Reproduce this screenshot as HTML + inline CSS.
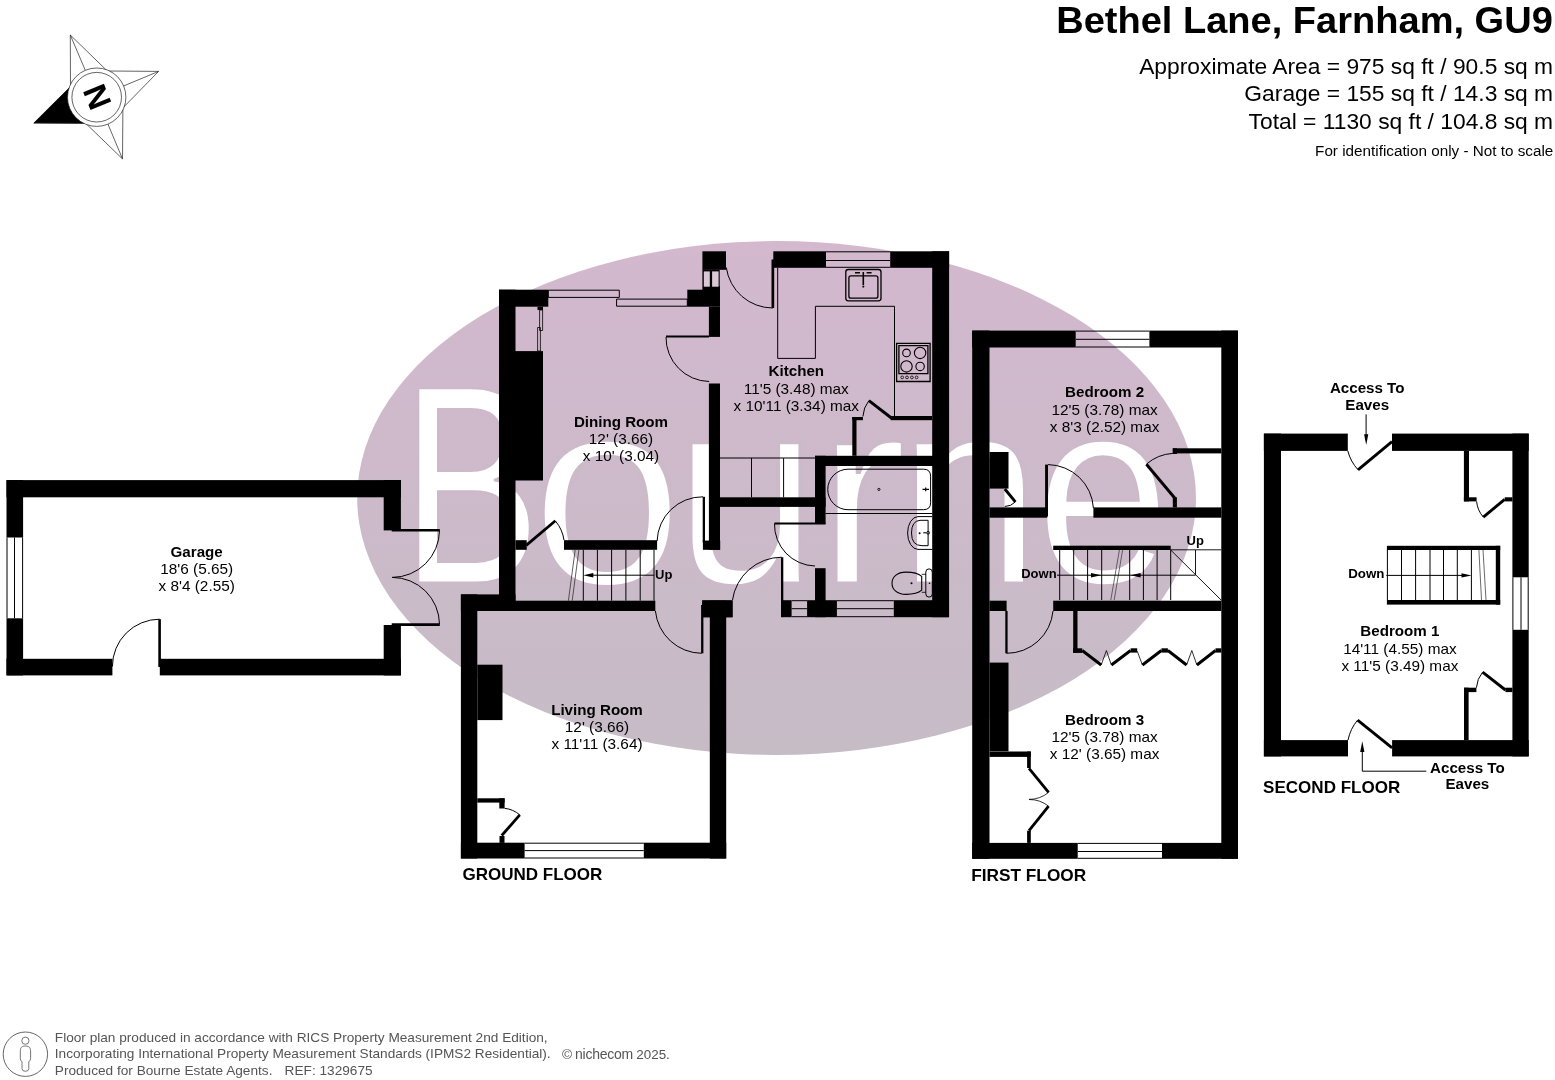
<!DOCTYPE html>
<html lang="en"><head><meta charset="utf-8"><title>Bethel Lane, Farnham, GU9 - Floor plan</title>
<style>
html,body{margin:0;padding:0;background:#fff;}
body{width:1555px;height:1080px;overflow:hidden;font-family:"Liberation Sans",sans-serif;}
svg{display:block;will-change:transform;font-family:"Liberation Sans",sans-serif;}
</style></head><body>
<svg width="1555" height="1080" viewBox="0 0 1555 1080">
<rect width="1555" height="1080" fill="#fff"/>
<defs><linearGradient id="eg" x1="0" y1="0" x2="0" y2="1"><stop offset="0" stop-color="#d3b8ce"/><stop offset="1" stop-color="#c6bcc6"/></linearGradient></defs>
<ellipse cx="776.6" cy="498" rx="419.4" ry="256.9" fill="url(#eg)"/>
<g id="watermark" aria-label="Bourne"><title>Bourne</title><text transform="translate(401.26 582.82) scale(2.0893 2.8320)" x="0" y="0" font-size="100.0" fill="#fff" stroke="#ccbaca" stroke-width="0.862">B</text><text transform="translate(530.87 584.63) scale(2.7448 2.6982)" x="0" y="0" font-size="100.0" fill="#fff" stroke="#ccbaca" stroke-width="1.676">o</text><text transform="translate(673.12 583.98) scale(2.6224 2.6915)" x="0" y="0" font-size="100.0" fill="#fff" stroke="#ccbaca" stroke-width="1.792">u</text><text transform="translate(815.85 583.92) scale(2.7640 2.6712)" x="0" y="0" font-size="100.0" fill="#fff" stroke="#ccbaca" stroke-width="1.809">r</text><text transform="translate(896.54 583.91) scale(2.6224 2.6876)" x="0" y="0" font-size="100.0" fill="#fff" stroke="#ccbaca" stroke-width="1.792">n</text><text transform="translate(1035.02 583.56) scale(2.4444 2.6729)" x="0" y="0" font-size="100.0" fill="#fff" stroke="#ccbaca" stroke-width="1.473">e</text></g>
<g stroke="#222" stroke-width="0.7" fill="#fff">
<polygon points="70.3,35.0 107.3,71.0 158.6,71.4 122.9,107.9 122.5,158.9 85.7,123.3 33.9,123.0 70.5,86.5"/>
<line x1="70.3" y1="35" x2="96.7" y2="97.2"/>
<line x1="158.6" y1="71.4" x2="96.7" y2="97.2"/>
<line x1="122.5" y1="158.9" x2="96.7" y2="97.2"/>
<line x1="33.9" y1="123" x2="96.7" y2="97.2"/>
<polygon points="33.9,123 85.7,123.3 96.7,97.2 70.5,86.5" fill="#000"/>
<circle cx="96.7" cy="97.2" r="29.2"/><circle cx="96.7" cy="97.2" r="24.8"/>
</g>
<text transform="translate(96.7 97.2) rotate(-112.4)" x="0" y="11.6" font-size="32.5" font-weight="700" text-anchor="middle" fill="#000">N</text>
<text transform="translate(1552.8 33.2) scale(1.028 1)" x="0" y="0" font-size="37.0" font-weight="700" text-anchor="end" fill="#000">Bethel Lane, Farnham, GU9</text>
<text transform="translate(1553.1 73.6) scale(1.028 1)" x="0" y="0" font-size="22.2" text-anchor="end" fill="#000">Approximate Area = 975 sq ft / 90.5 sq m</text>
<text transform="translate(1553.1 101.4) scale(1.028 1)" x="0" y="0" font-size="22.2" text-anchor="end" fill="#000">Garage = 155 sq ft / 14.3 sq m</text>
<text transform="translate(1553.1 129.1) scale(1.028 1)" x="0" y="0" font-size="22.2" text-anchor="end" fill="#000">Total = 1130 sq ft / 104.8 sq m</text>
<text transform="translate(1553.3 155.6) scale(1.028 1)" x="0" y="0" font-size="14.85" text-anchor="end" fill="#000">For identification only - Not to scale</text>
<g id="garage">
<rect x="6.5" y="480.1" width="394.4" height="17.2" fill="#000" />
<rect x="6.5" y="480.1" width="16.6" height="57.4" fill="#000" />
<rect x="6.5" y="618.3" width="16.6" height="57.1" fill="#000" />
<line x1="7.0" y1="537.5" x2="7.0" y2="618.3" stroke="#000" stroke-width="1" />
<line x1="22.6" y1="537.5" x2="22.6" y2="618.3" stroke="#000" stroke-width="1" />
<line x1="14.5" y1="537.5" x2="14.5" y2="618.3" stroke="#000" stroke-width="1" />
<rect x="383.7" y="480.1" width="17.2" height="50.3" fill="#000" />
<rect x="383.7" y="625.0" width="17.2" height="50.4" fill="#000" />
<rect x="6.5" y="658.8" width="105.9" height="16.6" fill="#000" />
<rect x="159.8" y="658.8" width="241.1" height="16.6" fill="#000" />
<line x1="391.7" y1="530.2" x2="439.8" y2="530.2" stroke="#000" stroke-width="2.6" />
<line x1="391.7" y1="624.6" x2="439.8" y2="624.6" stroke="#000" stroke-width="2.6" />
<path d="M439.5 530.6A47.3 47.3 0 0 1 392.2 577.4" stroke="#000" stroke-width="1" fill="none" />
<path d="M439.5 624.2A47.3 47.3 0 0 0 392.2 577.4" stroke="#000" stroke-width="1" fill="none" />
<line x1="159.6" y1="619.2" x2="159.6" y2="667.0" stroke="#000" stroke-width="2.6" />
<path d="M159.6 619.2A47.3 47.3 0 0 0 112.4 666.5" stroke="#000" stroke-width="1" fill="none" />
<text x="196.7" y="556.7" font-size="15.15" font-weight="700" text-anchor="middle" fill="#000" >Garage</text>
<text x="196.7" y="573.9" font-size="15.35" text-anchor="middle" fill="#000" >18'6 (5.65)</text>
<text x="196.7" y="591.1" font-size="15.35" text-anchor="middle" fill="#000" >x 8'4 (2.55)</text>
</g>
<g id="ground">
<rect x="499.0" y="289.7" width="49.3" height="17.0" fill="#000" />
<rect x="499.0" y="289.7" width="16.5" height="321.2" fill="#000" />
<rect x="499.0" y="351.1" width="44.0" height="129.4" fill="#000" />
<rect x="537.5" y="306.7" width="5.5" height="3.3" fill="#000" />
<path d="M539.6 310H542.6V330.5H539.6Z" stroke="#000" stroke-width="0.8" fill="none" />
<path d="M537.6 327.5H540.4V351H537.6Z" stroke="#000" stroke-width="0.8" fill="none" />
<path d="M548.3 290.2H619.3V297.4H548.3Z" stroke="#000" stroke-width="1" fill="none" />
<path d="M616.6 299.1H687.3V306.2H616.6Z" stroke="#000" stroke-width="1" fill="none" />
<rect x="687.3" y="289.7" width="32.7" height="17.0" fill="#000" />
<rect x="703.0" y="286.3" width="17.0" height="3.7" fill="#000" />
<rect x="708.9" y="306.7" width="11.1" height="30.2" fill="#000" />
<line x1="666.0" y1="336.6" x2="709.0" y2="336.6" stroke="#000" stroke-width="2" />
<path d="M666.0 337.0A44.0 44.0 0 0 0 709.2 381.5" stroke="#000" stroke-width="1" fill="none" />
<rect x="708.9" y="383.5" width="11.1" height="166.3" fill="#000" />
<rect x="702.9" y="540.6" width="17.3" height="9.2" fill="#000" />
<rect x="702.4" y="251.3" width="23.6" height="18.5" fill="#000" />
<rect x="702.4" y="269.5" width="17.3" height="20.5" fill="#000" />
<rect x="703.8" y="271.4" width="6.0" height="15.3" fill="#d9c8d7" />
<rect x="712.1" y="271.4" width="6.5" height="15.3" fill="#d9c8d7" />
<rect x="773.3" y="251.3" width="52.7" height="16.5" fill="#000" />
<rect x="890.2" y="251.3" width="58.9" height="16.5" fill="#000" />
<line x1="826.0" y1="251.8" x2="890.2" y2="251.8" stroke="#000" stroke-width="1" />
<line x1="826.0" y1="267.3" x2="890.2" y2="267.3" stroke="#000" stroke-width="1" />
<line x1="826.0" y1="260.5" x2="890.2" y2="260.5" stroke="#000" stroke-width="1" />
<rect x="771.5" y="259.5" width="2.7" height="48.5" fill="#000" />
<path d="M726.3 267.5A47.0 47.0 0 0 0 772.8 308.0" stroke="#000" stroke-width="1" fill="none" />
<rect x="932.2" y="251.3" width="16.9" height="365.9" fill="#000" />
<rect x="782.6" y="600.2" width="9.0" height="17.0" fill="#000" />
<rect x="807.1" y="600.2" width="29.8" height="17.0" fill="#000" />
<rect x="893.8" y="600.2" width="54.9" height="17.0" fill="#000" />
<line x1="791.6" y1="600.7" x2="807.1" y2="600.7" stroke="#000" stroke-width="1" />
<line x1="791.6" y1="616.7" x2="807.1" y2="616.7" stroke="#000" stroke-width="1" />
<line x1="791.6" y1="608.7" x2="807.1" y2="608.7" stroke="#000" stroke-width="1" />
<line x1="836.9" y1="600.7" x2="893.8" y2="600.7" stroke="#000" stroke-width="1" />
<line x1="836.9" y1="616.7" x2="893.8" y2="616.7" stroke="#000" stroke-width="1" />
<line x1="836.9" y1="608.7" x2="893.8" y2="608.7" stroke="#000" stroke-width="1" />
<rect x="719.8" y="497.3" width="105.8" height="9.6" fill="#000" />
<rect x="815.0" y="455.8" width="133.7" height="10.2" fill="#000" />
<rect x="815.0" y="455.8" width="10.6" height="67.7" fill="#000" />
<line x1="774.5" y1="523.5" x2="825.6" y2="523.5" stroke="#000" stroke-width="2" />
<path d="M774.5 523.5A41.5 41.5 0 0 0 815.0 566.0" stroke="#000" stroke-width="1" fill="none" />
<rect x="815.0" y="568.2" width="10.6" height="49.0" fill="#000" />
<rect x="852.3" y="417.0" width="4.2" height="38.8" fill="#000" />
<rect x="852.3" y="417.0" width="10.6" height="3.2" fill="#000" />
<rect x="890.6" y="416.0" width="41.5" height="4.2" fill="#000" />
<line x1="868.9" y1="400.6" x2="891.4" y2="418.0" stroke="#000" stroke-width="2.9" />
<path d="M868.9 400.6A28.0 28.0 0 0 0 862.9 416.5" stroke="#000" stroke-width="1" fill="none" />
<path d="M719.8 458H815M751.5 458V497.3M783.6 458V497.3" stroke="#000" stroke-width="1" fill="none" />
<path d="M777.7 267.8V358.4H815.4V306.3H894.5V416" stroke="#000" stroke-width="1" fill="none" />
<path d="M848.3 269.5H878.5Q881 269.5 881 272V298.3Q881 300.8 878.5 300.8H848.3Q845.8 300.8 845.8 298.3V272Q845.8 269.5 848.3 269.5Z" stroke="#000" stroke-width="1.3" fill="none" />
<path d="M850.9 275.9H875.9Q877.9 275.9 877.9 277.9V296.2Q877.9 298.2 875.9 298.2H850.9Q848.9 298.2 848.9 296.2V277.9Q848.9 275.9 850.9 275.9Z" stroke="#000" stroke-width="1.3" fill="none" />
<line x1="863.3" y1="272.0" x2="863.3" y2="285.0" stroke="#000" stroke-width="1.6" />
<circle cx="863.3" cy="286.6" r="1.1" fill="#000"/>
<path d="M855 272.7H860M866.6 272.7H871.6" stroke="#000" stroke-width="1.4" fill="none" />
<path d="M896.6 343.3H930.1V381.5H896.6Z" stroke="#000" stroke-width="1.3" fill="none" />
<path d="M898.9 345.6H927.9V373.7H898.9Z" stroke="#000" stroke-width="1.3" fill="none" />
<circle cx="906.5" cy="352.9" r="3.8" fill="none" stroke="#000" stroke-width="1.1"/>
<circle cx="920.1" cy="352.9" r="5.7" fill="none" stroke="#000" stroke-width="1.1"/>
<circle cx="906.5" cy="366.4" r="5.7" fill="none" stroke="#000" stroke-width="1.1"/>
<circle cx="920.1" cy="366.4" r="4.2" fill="none" stroke="#000" stroke-width="1.1"/>
<circle cx="902.2" cy="377.4" r="1.4" fill="none" stroke="#000" stroke-width="0.8"/>
<circle cx="907" cy="377.4" r="1.4" fill="none" stroke="#000" stroke-width="0.8"/>
<circle cx="911.9" cy="377.4" r="1.4" fill="none" stroke="#000" stroke-width="0.8"/>
<circle cx="916.6" cy="377.4" r="1.4" fill="none" stroke="#000" stroke-width="0.8"/>
<path d="M848 469.2H923.6Q930.6 469.2 930.6 476.2V502.7Q930.6 509.7 923.6 509.7H848A20.2 20.2 0 0 1 848 469.2Z" stroke="#000" stroke-width="1" fill="none" />
<line x1="825.6" y1="513.5" x2="932.2" y2="513.5" stroke="#000" stroke-width="1" />
<circle cx="878.9" cy="489.4" r="1.1" fill="none" stroke="#000" stroke-width="0.9"/>
<path d="M922.5 489.4H929M925.7 487.6V491.2" stroke="#000" stroke-width="1.2" fill="none" />
<path d="M932.3 516.6H918A10.4 16.4 0 0 0 918 549.4H932.3" stroke="#000" stroke-width="1" fill="none" />
<path d="M928.1 520.3H920Q911.5 521 911.5 533Q911.5 545.7 922 545.7H928.1Z" stroke="#000" stroke-width="1" fill="none" />
<circle cx="919.6" cy="533.2" r="1" fill="#000"/>
<path d="M923.3 532.8H926.3" stroke="#000" stroke-width="1.1" fill="none" />
<circle cx="928.1" cy="532.8" r="1.4" fill="none" stroke="#000" stroke-width="0.9"/>
<path d="M921.7 576.3C918 573 912 572.1 906 572.1C897 572.1 892 577 892 583.3C892 589.5 897 594.4 906 594.4C912 594.4 918 593.5 921.7 590.2Z" stroke="#000" stroke-width="1.1" fill="none" />
<path d="M921.7 574.3H926M921.7 592.3H926" stroke="#000" stroke-width="0.8" fill="none" />
<rect x="925.8" y="568.9" width="6.5" height="28.2" rx="3.2" fill="none" stroke="#000" stroke-width="1"/>
<circle cx="911.5" cy="583.2" r="1" fill="#000"/>
<circle cx="929.5" cy="583.2" r="0.8" fill="#000"/>
<rect x="781.0" y="557.2" width="2.3" height="60.0" fill="#000" />
<path d="M781.6 557.2A50.0 50.0 0 0 0 732.4 600.6" stroke="#000" stroke-width="1" fill="none" />
<rect x="702.1" y="600.2" width="29.8" height="17.0" fill="#000" />
<rect x="564.0" y="540.2" width="93.1" height="9.6" fill="#000" />
<rect x="515.5" y="540.2" width="11.2" height="9.6" fill="#000" />
<line x1="526.2" y1="545.4" x2="555.4" y2="520.7" stroke="#000" stroke-width="2.8" />
<path d="M555.6 521.2A37.5 37.5 0 0 1 564.0 540.2" stroke="#000" stroke-width="1" fill="none" />
<path d="M583.3 549.8V600.7M597.4 549.8V600.7M611.6 549.8V600.7M625.9 549.8V600.7M640.2 549.8V600.7M654 549.8V600.7" stroke="#000" stroke-width="1" fill="none" />
<path d="M575.2 549.8L568.4 600.7M578.9 549.8L572.2 600.7" stroke="#333" stroke-width="0.8" fill="none" />
<line x1="654.0" y1="575.2" x2="590.0" y2="575.2" stroke="#000" stroke-width="1" />
<polygon points="583.3,575.2 593.3,573 593.3,577.4" fill="#000"/>
<text x="655.0" y="579.3" font-size="13" font-weight="700" text-anchor="start" fill="#000" >Up</text>
<rect x="702.7" y="496.8" width="2.3" height="45.8" fill="#000" />
<path d="M703.0 496.8A45.5 45.5 0 0 0 657.1 541.0" stroke="#000" stroke-width="1" fill="none" />
<rect x="460.9" y="594.4" width="16.4" height="264.1" fill="#000" />
<rect x="460.9" y="594.4" width="54.6" height="16.6" fill="#000" />
<rect x="477.3" y="600.7" width="178.0" height="10.3" fill="#000" />
<rect x="709.8" y="600.7" width="16.4" height="257.8" fill="#000" />
<rect x="702.7" y="600.7" width="30.1" height="16.6" fill="#000" />
<rect x="460.9" y="842.7" width="63.7" height="15.8" fill="#000" />
<rect x="643.8" y="842.7" width="82.4" height="15.8" fill="#000" />
<line x1="524.6" y1="843.2" x2="643.8" y2="843.2" stroke="#000" stroke-width="1" />
<line x1="524.6" y1="858.0" x2="643.8" y2="858.0" stroke="#000" stroke-width="1" />
<line x1="524.6" y1="850.6" x2="643.8" y2="850.6" stroke="#000" stroke-width="1" />
<rect x="477.3" y="664.7" width="25.2" height="55.4" fill="#000" />
<rect x="477.3" y="798.3" width="27.3" height="4.3" fill="#000" />
<rect x="499.3" y="798.3" width="5.3" height="10.2" fill="#000" />
<rect x="499.5" y="836.0" width="5.0" height="6.9" fill="#000" />
<line x1="501.7" y1="835.5" x2="519.8" y2="814.9" stroke="#000" stroke-width="2.8" />
<path d="M504.6 808.3A28.0 28.0 0 0 1 519.8 814.9" stroke="#000" stroke-width="1" fill="none" />
<rect x="701.1" y="605.0" width="2.3" height="48.3" fill="#000" />
<path d="M701.7 653.3A47.0 47.0 0 0 1 655.4 611.0" stroke="#000" stroke-width="1" fill="none" />
<text x="621.0" y="426.5" font-size="15.15" font-weight="700" text-anchor="middle" fill="#000" >Dining Room</text>
<text x="621.0" y="443.8" font-size="15.35" text-anchor="middle" fill="#000" >12' (3.66)</text>
<text x="621.0" y="461.1" font-size="15.35" text-anchor="middle" fill="#000" >x 10' (3.04)</text>
<text x="796.3" y="376.3" font-size="15.15" font-weight="700" text-anchor="middle" fill="#000" >Kitchen</text>
<text x="796.3" y="393.7" font-size="15.35" text-anchor="middle" fill="#000" >11'5 (3.48) max</text>
<text x="796.3" y="410.7" font-size="15.35" text-anchor="middle" fill="#000" >x 10'11 (3.34) max</text>
<text x="597.0" y="714.9" font-size="15.15" font-weight="700" text-anchor="middle" fill="#000" >Living Room</text>
<text x="597.0" y="732.2" font-size="15.35" text-anchor="middle" fill="#000" >12' (3.66)</text>
<text x="597.0" y="748.8" font-size="15.35" text-anchor="middle" fill="#000" >x 11'11 (3.64)</text>
<text x="462.4" y="880.1" font-size="17.05" font-weight="700" text-anchor="start" fill="#000" >GROUND FLOOR</text>
</g>
<g id="first">
<rect x="972.2" y="330.6" width="103.5" height="16.9" fill="#000" />
<rect x="1149.4" y="330.6" width="88.6" height="16.9" fill="#000" />
<line x1="1075.7" y1="331.1" x2="1149.4" y2="331.1" stroke="#000" stroke-width="1" />
<line x1="1075.7" y1="347.0" x2="1149.4" y2="347.0" stroke="#000" stroke-width="1" />
<line x1="1075.7" y1="339.3" x2="1149.4" y2="339.3" stroke="#000" stroke-width="1" />
<rect x="972.2" y="330.6" width="17.3" height="528.2" fill="#000" />
<rect x="1221.3" y="330.6" width="16.7" height="528.2" fill="#000" />
<rect x="972.2" y="842.9" width="105.5" height="15.9" fill="#000" />
<rect x="1162.0" y="842.9" width="76.0" height="15.9" fill="#000" />
<line x1="1077.7" y1="843.4" x2="1162.0" y2="843.4" stroke="#000" stroke-width="1" />
<line x1="1077.7" y1="858.3" x2="1162.0" y2="858.3" stroke="#000" stroke-width="1" />
<line x1="1077.7" y1="851.5" x2="1162.0" y2="851.5" stroke="#000" stroke-width="1" />
<rect x="989.5" y="452.0" width="19.0" height="36.6" fill="#000" />
<line x1="1004.8" y1="489.0" x2="1015.4" y2="501.9" stroke="#000" stroke-width="2.9" />
<path d="M1015.4 501.9A15.0 15.0 0 0 1 1004.8 506.5" stroke="#000" stroke-width="1" fill="none" />
<rect x="989.5" y="507.4" width="57.7" height="10.3" fill="#000" />
<rect x="1093.4" y="507.4" width="127.9" height="10.3" fill="#000" />
<rect x="1045.1" y="464.6" width="2.9" height="51.9" fill="#000" />
<path d="M1048.0 464.6A46.0 46.0 0 0 1 1093.4 508.0" stroke="#000" stroke-width="1" fill="none" />
<rect x="1172.8" y="448.3" width="48.5" height="5.1" fill="#000" />
<rect x="1172.8" y="448.3" width="4.1" height="5.7" fill="#000" />
<rect x="1172.8" y="497.2" width="4.1" height="10.2" fill="#000" />
<line x1="1146.4" y1="464.2" x2="1174.9" y2="498.2" stroke="#000" stroke-width="2.9" />
<path d="M1146.4 464.2A44.0 44.0 0 0 1 1172.8 453.4" stroke="#000" stroke-width="1" fill="none" />
<rect x="1053.2" y="545.7" width="117.5" height="4.3" fill="#000" />
<path d="M1059.7 550V600M1073.7 550V600M1087.6 550V600M1101.7 550V600M1129.7 550V600M1143.4 550V600M1157.1 550V600M1170.7 550V600" stroke="#000" stroke-width="1" fill="none" />
<path d="M1119.4 550L1110.8 600M1122.6 550L1114.2 600" stroke="#444" stroke-width="0.8" fill="none" />
<path d="M1170.7 549.8H1221.3M1170.7 550L1221.1 600M1195.5 550V575" stroke="#000" stroke-width="0.9" fill="none" />
<line x1="1057.0" y1="575.2" x2="1195.5" y2="575.2" stroke="#000" stroke-width="1" />
<polygon points="1101,575.2 1091,573 1091,577.4" fill="#000"/>
<polygon points="1130.6,575.2 1140.6,573 1140.6,577.4" fill="#000"/>
<text x="1021.2" y="577.5" font-size="13" font-weight="700" text-anchor="start" fill="#000" >Down</text>
<text x="1186.6" y="544.8" font-size="13" font-weight="700" text-anchor="start" fill="#000" >Up</text>
<rect x="1053.2" y="600.7" width="168.1" height="10.3" fill="#000" />
<rect x="989.5" y="600.7" width="17.1" height="10.3" fill="#000" />
<rect x="1005.3" y="611.0" width="2.3" height="42.3" fill="#000" />
<path d="M1006.6 653.3A46.5 46.5 0 0 0 1053.0 611.0" stroke="#000" stroke-width="1" fill="none" />
<rect x="989.5" y="662.6" width="19.0" height="88.7" fill="#000" />
<rect x="1073.2" y="611.0" width="4.3" height="41.9" fill="#000" />
<rect x="1073.2" y="648.3" width="9.0" height="4.6" fill="#000" />
<rect x="1130.6" y="648.3" width="6.6" height="4.3" fill="#000" />
<rect x="1161.4" y="648.3" width="6.5" height="4.3" fill="#000" />
<rect x="1215.5" y="648.3" width="5.8" height="4.3" fill="#000" />
<path d="M1082.2 650.5L1101.2 665M1111.4 665L1130.6 650.5M1142.4 665L1161.4 650.5M1167.9 650.5L1186.6 665M1196.9 665L1215.5 650.5" stroke="#000" stroke-width="2.9" fill="none" />
<path d="M1101.2 665L1106.4 650.5L1111.4 665M1137.2 651.1L1142.4 665M1186.6 665L1191.8 650.5L1196.9 665" stroke="#000" stroke-width="0.8" fill="none" />
<rect x="989.5" y="751.5" width="41.3" height="5.4" fill="#000" />
<rect x="1027.1" y="751.5" width="3.7" height="16.5" fill="#000" />
<rect x="1027.1" y="830.7" width="3.7" height="12.2" fill="#000" />
<path d="M1029 768.3L1048.6 792.4M1048.6 806.2L1029 830.6" stroke="#000" stroke-width="2.8" fill="none" />
<path d="M1048.6 792.4A31.0 31.0 0 0 1 1029.0 799.4" stroke="#000" stroke-width="0.8" fill="none" />
<path d="M1048.6 806.2A31.0 31.0 0 0 0 1029.0 799.5" stroke="#000" stroke-width="0.8" fill="none" />
<text x="1104.6" y="397.4" font-size="15.15" font-weight="700" text-anchor="middle" fill="#000" >Bedroom 2</text>
<text x="1104.6" y="414.7" font-size="15.35" text-anchor="middle" fill="#000" >12'5 (3.78) max</text>
<text x="1104.6" y="431.6" font-size="15.35" text-anchor="middle" fill="#000" >x 8'3 (2.52) max</text>
<text x="1104.6" y="725.2" font-size="15.15" font-weight="700" text-anchor="middle" fill="#000" >Bedroom 3</text>
<text x="1104.6" y="742.1" font-size="15.35" text-anchor="middle" fill="#000" >12'5 (3.78) max</text>
<text x="1104.6" y="759.4" font-size="15.35" text-anchor="middle" fill="#000" >x 12' (3.65) max</text>
<text x="971.2" y="880.8" font-size="17.25" font-weight="700" text-anchor="start" fill="#000" >FIRST FLOOR</text>
</g>
<g id="second">
<rect x="1263.9" y="433.6" width="83.9" height="17.3" fill="#000" />
<rect x="1392.0" y="433.6" width="136.7" height="17.3" fill="#000" />
<rect x="1263.9" y="433.6" width="17.1" height="322.8" fill="#000" />
<rect x="1512.4" y="433.6" width="16.3" height="143.7" fill="#000" />
<rect x="1512.4" y="629.8" width="16.3" height="126.6" fill="#000" />
<line x1="1512.9" y1="577.3" x2="1512.9" y2="629.8" stroke="#000" stroke-width="1" />
<line x1="1528.2" y1="577.3" x2="1528.2" y2="629.8" stroke="#000" stroke-width="1" />
<line x1="1521.0" y1="577.3" x2="1521.0" y2="629.8" stroke="#000" stroke-width="1" />
<rect x="1263.9" y="740.1" width="84.1" height="16.3" fill="#000" />
<rect x="1392.1" y="740.1" width="136.6" height="16.3" fill="#000" />
<line x1="1392.0" y1="441.7" x2="1358.0" y2="469.8" stroke="#000" stroke-width="2.9" />
<path d="M1347.8 450.9A45.0 45.0 0 0 0 1358.0 469.8" stroke="#000" stroke-width="1" fill="none" />
<line x1="1366.1" y1="414.4" x2="1366.1" y2="436.0" stroke="#000" stroke-width="1" />
<polygon points="1366.2,444.9 1364.1,434.2 1368.3,434.2" fill="#000"/>
<text x="1367.2" y="393.0" font-size="15.15" font-weight="700" text-anchor="middle" fill="#000" >Access To</text>
<text x="1367.2" y="410.0" font-size="15.15" font-weight="700" text-anchor="middle" fill="#000" >Eaves</text>
<rect x="1463.9" y="450.9" width="5.1" height="50.5" fill="#000" />
<rect x="1463.9" y="497.3" width="12.7" height="4.1" fill="#000" />
<rect x="1504.7" y="497.3" width="7.7" height="4.1" fill="#000" />
<line x1="1504.7" y1="499.4" x2="1483.3" y2="517.1" stroke="#000" stroke-width="2.9" />
<path d="M1476.6 501.4A28.0 28.0 0 0 0 1483.3 517.1" stroke="#000" stroke-width="1" fill="none" />
<rect x="1386.9" y="545.8" width="113.3" height="4.2" fill="#000" />
<rect x="1495.8" y="545.8" width="4.4" height="58.8" fill="#000" />
<rect x="1386.9" y="600.0" width="113.3" height="4.6" fill="#000" />
<path d="M1387.4 550V600M1401.5 550V600M1415.6 550V600M1430 550V600M1443.5 550V600M1457.3 550V600M1471.4 550V600" stroke="#000" stroke-width="1" fill="none" />
<path d="M1478.9 550L1481.5 600M1483 550L1486 600" stroke="#444" stroke-width="0.8" fill="none" />
<line x1="1386.3" y1="575.4" x2="1465.0" y2="575.4" stroke="#000" stroke-width="1" />
<polygon points="1471.6,575.4 1461.5,573.2 1461.5,577.6" fill="#000"/>
<text x="1348.2" y="577.6" font-size="13.3" font-weight="700" text-anchor="start" fill="#000" >Down</text>
<rect x="1464.0" y="687.7" width="4.6" height="52.4" fill="#000" />
<rect x="1464.0" y="687.7" width="12.4" height="4.4" fill="#000" />
<rect x="1505.4" y="687.7" width="7.0" height="4.4" fill="#000" />
<line x1="1505.4" y1="690.0" x2="1482.6" y2="672.1" stroke="#000" stroke-width="2.9" />
<path d="M1476.4 687.7A28.0 28.0 0 0 1 1482.6 672.1" stroke="#000" stroke-width="1" fill="none" />
<line x1="1392.1" y1="747.8" x2="1357.6" y2="720.1" stroke="#000" stroke-width="2.9" />
<path d="M1348.0 740.1A45.0 45.0 0 0 1 1357.6 720.1" stroke="#000" stroke-width="1" fill="none" />
<path d="M1362.3 750V771.2H1426.3" stroke="#000" stroke-width="1" fill="none" />
<polygon points="1362.3,741.2 1360.2,751.9 1364.4,751.9" fill="#000"/>
<text x="1467.4" y="773.3" font-size="15.15" font-weight="700" text-anchor="middle" fill="#000" >Access To</text>
<text x="1467.4" y="789.3" font-size="15.15" font-weight="700" text-anchor="middle" fill="#000" >Eaves</text>
<text x="1399.9" y="636.3" font-size="15.15" font-weight="700" text-anchor="middle" fill="#000" >Bedroom 1</text>
<text x="1399.9" y="653.7" font-size="15.35" text-anchor="middle" fill="#000" >14'11 (4.55) max</text>
<text x="1399.9" y="670.8" font-size="15.35" text-anchor="middle" fill="#000" >x 11'5 (3.49) max</text>
<text x="1263.1" y="792.8" font-size="17.05" font-weight="700" text-anchor="start" fill="#000" >SECOND FLOOR</text>
</g>
<g id="footer" fill="#555">
<circle cx="25.4" cy="1054.2" r="22.2" fill="none" stroke="#666" stroke-width="1"/>
<circle cx="25.4" cy="1040.7" r="3.6" fill="none" stroke="#666" stroke-width="0.9"/>
<path d="M25.4 1046C20.5 1046 20.3 1049 20.3 1052V1058.5Q20.3 1061 22 1061.5V1068.5Q22 1071.3 25.4 1071.3Q28.8 1071.3 28.8 1068.5V1061.5Q30.6 1061 30.6 1058.5V1052C30.6 1049 30.3 1046 25.4 1046Z" fill="none" stroke="#666" stroke-width="0.9"/>
<text x="54.8" y="1042" font-size="13.65">Floor plan produced in accordance with RICS Property Measurement 2nd Edition,</text>
<text x="54.8" y="1058.4" font-size="13.65">Incorporating International Property Measurement Standards (IPMS2 Residential).</text>
<text x="562.1" y="1058.6" font-size="13.65">©</text>
<text x="575" y="1058.7" font-size="14" letter-spacing="-0.25">nichecom</text>
<text x="636.3" y="1058.7" font-size="13.4">2025.</text>
<text x="54.8" y="1074.8" font-size="13.65">Produced for Bourne Estate Agents.</text>
<text x="284.6" y="1074.8" font-size="13.65">REF: 1329675</text>
</g>
</svg></body></html>
